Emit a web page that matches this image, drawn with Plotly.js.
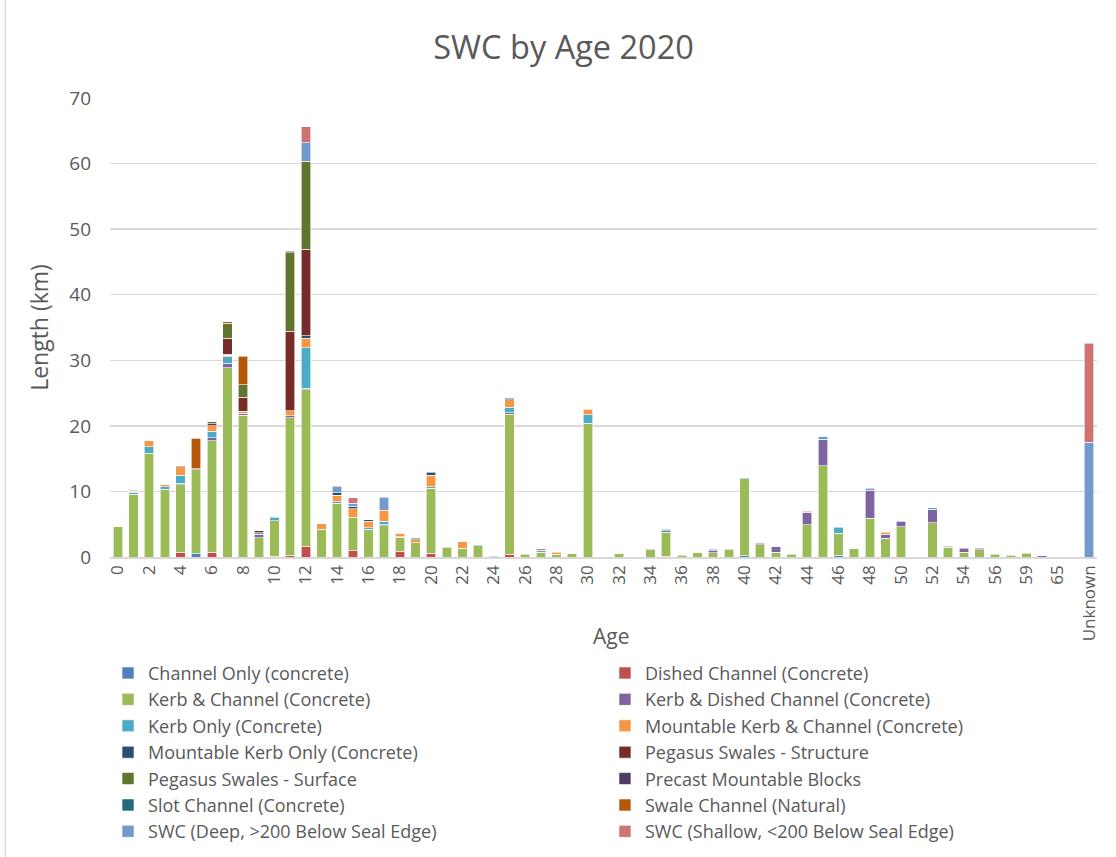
<!DOCTYPE html>
<html>
<head>
<meta charset="utf-8">
<script src="https://cdn.plot.ly/plotly-3.0.1.min.js"></script>
<style>html,body{margin:0;padding:0;background:#fff;}#chart{width:1116px;height:857px;}</style>
</head>
<body>
<div id="chart"></div>
<script>
// Age categories (x axis)
const ages = ["0","1","2","3","4","5","6","7","8","9",
  "10","11","12","13","14","15","16","17","18","19",
  "20","21","22","23","24","25","26","27","28","29",
  "30","31","32","33","34","35","36","37","38","39",
  "40","41","42","43","44","45","46","47","48","49",
  "50","51","52","53","54","55","56","57","59","60",
  "65","66","Unknown"];

// Series values (km), one value per age category
const channelOnly = [0,0,0,0,0,0.5,0,0,0,0, 0,0,0,0,0,0,0,0,0,0, 0,0,0,0,0,0,0,0,0,0, 0,0,0,0,0,0,0,0,0,0, 0.2,0,0,0,0,0,0.3,0,0,0, 0,0,0,0,0,0,0,0,0,0, 0,0,0];
const dishedChannel = [0,0,0,0,0.75,0,0.75,0,0,0, 0.15,0.25,1.6,0,0,0.97,0,0,0.8,0, 0.6,0,0,0,0,0.45,0,0,0,0, 0,0,0,0,0,0.15,0,0,0,0, 0,0,0,0,0,0,0,0,0,0, 0,0,0,0,0,0,0,0,0,0, 0,0,0];
const kerbChannel = [4.65,9.6,15.8,10.3,10.25,12.8,16.95,28.9,21.65,2.95, 5.4,21.0,23.9,4.2,8.2,5.1,4.2,4.8,2.2,2.2, 9.9,1.5,1.3,1.7,0,21.35,0.4,0.7,0.45,0.5, 20.4,0,0.5,0,1.2,3.6,0.25,0.65,0.65,1.15, 11.7,1.9,0.7,0.4,4.9,13.9,3.3,1.27,5.9,2.85, 4.6,0,5.2,1.5,0.75,1.1,0.45,0.3,0.55,0, 0,0,0];
const kerbDished = [0,0,0,0,0.25,0.15,0.5,0.65,0.25,0.5, 0,0.3,0.25,0,0,0,0,0.15,0,0, 0,0,0,0,0,0.2,0,0,0,0, 0,0,0,0,0,0.25,0,0,0.3,0, 0,0.2,0.85,0,1.9,4.05,0,0,4.3,0.6, 0.75,0,2.1,0.15,0.55,0.2,0,0,0,0.2, 0,0,0];
const kerbOnly = [0,0.3,1.0,0.4,1.2,0,1.0,1.0,0,0.25, 0.5,0,6.2,0,0.25,0,0.25,0.5,0.1,0, 0.2,0,0,0.2,0.1,0.85,0,0,0,0, 1.27,0,0,0,0,0.25,0,0,0,0, 0,0,0,0,0,0.4,0.9,0,0,0, 0,0,0.2,0,0,0,0,0,0,0, 0,0,0];
const mountableKC = [0,0.15,0.9,0.35,1.3,0,0.85,0.25,0.35,0, 0,0.75,1.4,0.9,1.0,1.3,1.0,1.7,0.45,0.45, 1.75,0,1.05,0,0,1.1,0,0,0.25,0, 0.86,0,0,0,0,0,0,0,0,0, 0,0,0,0,0,0.1,0,0,0,0.3, 0,0,0,0,0,0,0,0,0,0, 0,0,0];
const mountableKO = [0,0,0,0,0,0,0,0.15,0,0, 0,0,0.4,0,0.35,0.35,0.25,0,0,0.2, 0.5,0,0,0,0,0.25,0,0,0,0, 0,0,0,0,0,0,0,0,0,0, 0,0,0,0,0,0,0,0,0,0, 0,0,0,0,0,0,0,0,0,0, 0,0,0];
const pegasusStructure = [0,0,0,0,0,0,0.25,2.4,2.1,0.3, 0,12.1,13.2,0,0,0,0,0,0,0, 0,0,0,0,0,0,0,0,0,0, 0,0,0,0,0,0,0,0,0,0, 0,0,0,0,0,0,0,0,0,0, 0,0,0,0,0,0,0,0,0,0, 0,0,0];
const pegasusSurface = [0,0,0,0,0,0,0.3,2.3,1.9,0, 0,12.0,13.4,0,0,0,0,0,0,0, 0,0,0,0,0,0,0,0,0,0, 0,0,0,0,0,0,0,0,0,0, 0,0,0,0,0,0,0,0,0,0, 0,0,0,0,0,0,0,0,0,0, 0,0,0];
const precastBlocks = [0,0,0,0,0,0,0,0,0,0, 0,0.25,0,0,0,0,0,0,0,0, 0,0,0,0,0,0,0,0,0,0, 0,0,0,0,0,0,0,0,0,0, 0,0,0,0,0,0,0,0,0,0, 0,0,0,0,0,0,0,0,0,0, 0,0,0];
const slotChannel = [0,0,0,0,0.2,0,0,0,0,0, 0,0,0,0,0,0,0,0,0,0, 0,0,0,0,0,0,0,0,0,0, 0,0,0,0,0,0,0,0,0,0, 0,0,0,0,0,0,0,0,0,0, 0,0,0,0,0,0,0,0,0,0, 0,0,0];
const swaleChannel = [0,0,0,0,0,4.6,0,0.25,4.4,0, 0,0,0,0,0,0,0,0,0,0, 0,0,0,0,0,0,0,0,0,0, 0,0,0,0,0,0,0,0,0,0, 0,0,0,0,0,0,0,0,0,0, 0,0,0,0,0,0,0,0,0,0, 0,0,0];
const swcDeep = [0,0,0,0,0,0,0,0,0,0, 0,0,2.8,0,0.9,0.5,0,2.0,0,0, 0,0,0,0,0,0,0,0.35,0,0, 0,0,0,0,0,0,0,0,0.2,0, 0.2,0,0,0,0,0,0,0,0.25,0, 0.15,0,0,0,0,0,0,0,0,0, 0,0,17.5];
const swcShallow = [0,0.15,0,0,0,0.15,0,0,0,0, 0,0,2.5,0,0.15,0.85,0,0,0.1,0, 0,0,0,0,0,0,0,0.2,0,0, 0,0,0,0,0,0,0,0,0,0, 0,0,0,0,0.15,0,0,0,0,0, 0,0,0,0,0,0,0,0,0,0, 0,0,15.1];

const seriesNames = [
  "Channel Only (concrete)", "Dished Channel (Concrete)", "Kerb & Channel (Concrete)",
  "Kerb & Dished Channel (Concrete)", "Kerb Only (Concrete)", "Mountable Kerb & Channel (Concrete)",
  "Mountable Kerb Only (Concrete)", "Pegasus Swales - Structure", "Pegasus Swales - Surface",
  "Precast Mountable Blocks", "Slot Channel (Concrete)", "Swale Channel (Natural)",
  "SWC (Deep, >200 Below Seal Edge)", "SWC (Shallow, <200 Below Seal Edge)"];
const seriesValues = [channelOnly, dishedChannel, kerbChannel, kerbDished, kerbOnly, mountableKC,
  mountableKO, pegasusStructure, pegasusSurface, precastBlocks, slotChannel, swaleChannel, swcDeep, swcShallow];
const seriesColors = ["#4F81BD","#C0504D","#9BBB59","#8064A2","#4BACC6","#F79646",
  "#2C4D75","#772C2A","#5F7530","#4D3B62","#276A7C","#B65708","#729ACA","#CD7371"];

const FONT = "Open Sans, Liberation Sans, Arial, sans-serif";
const TXT = "#595959";

// legend entries alternate between left column (legend) and right column (legend2)
const traces = seriesNames.map((name, i) => ({
  type: "bar",
  name: name,
  x: ages,
  y: seriesValues[i].map(v => v === 0 ? null : v),
  legend: i % 2 === 0 ? "legend" : "legend2",
  marker: {color: seriesColors[i], line: {color: "#ffffff", width: 0.6}}
}));

const tickAges = ages.filter((a, i) => i % 2 === 0);

const legendCommon = {
  orientation: "v", yanchor: "top", xanchor: "left",
  font: {family: FONT, size: 18, color: TXT},
  traceorder: "normal", itemwidth: 30, bgcolor: "rgba(0,0,0,0)"
};

const layout = {
  width: 1116, height: 857,
  paper_bgcolor: "#ffffff", plot_bgcolor: "#ffffff",
  barmode: "stack", bargap: 0.39,
  font: {family: FONT, color: TXT},
  margin: {l: 110, r: 19, t: 98, b: 300, autoexpand: false},
  title: {text: "SWC by Age 2020", font: {family: FONT, size: 32.5, color: TXT},
          xref: "container", x: 0.505, xanchor: "center", yref: "container", y: 0.944, yanchor: "middle"},
  xaxis: {
    type: "category",
    tickmode: "array", tickvals: tickAges, ticktext: tickAges,
    tickangle: -90, tickfont: {family: FONT, size: 17, color: TXT},
    showline: true, linecolor: "#D9D9D9", linewidth: 1.5,
    showgrid: false, ticks: ""
  },
  yaxis: {
    range: [0, 70], dtick: 10, tick0: 0,
    gridcolor: "#D9D9D9", gridwidth: 1.3,
    zeroline: false, showline: false, ticks: "",
    ticklabelstandoff: 18,
    tickfont: {family: FONT, size: 19, color: TXT},
    title: {text: "Length (km)", font: {family: FONT, size: 23, color: TXT}, standoff: 14}
  },
  legend: Object.assign({}, legendCommon, {x: -0.002, y: -0.213}),
  legend2: Object.assign({}, legendCommon, {x: 0.5015, y: -0.213}),
  annotations: [{text: "Age", xref: "paper", yref: "paper", x: 0.5076, y: -0.172,
                 xanchor: "center", yanchor: "middle", showarrow: false,
                 font: {family: FONT, size: 21, color: TXT}}],
  shapes: [{type: "line", xref: "paper", yref: "paper", x0: -0.106, x1: -0.106, y0: -0.66, y1: 1.22,
            line: {color: "#D9D9D9", width: 1.5}}]
};

Plotly.newPlot("chart", traces, layout, {displayModeBar: false, staticPlot: true});
</script>
</body>
</html>
